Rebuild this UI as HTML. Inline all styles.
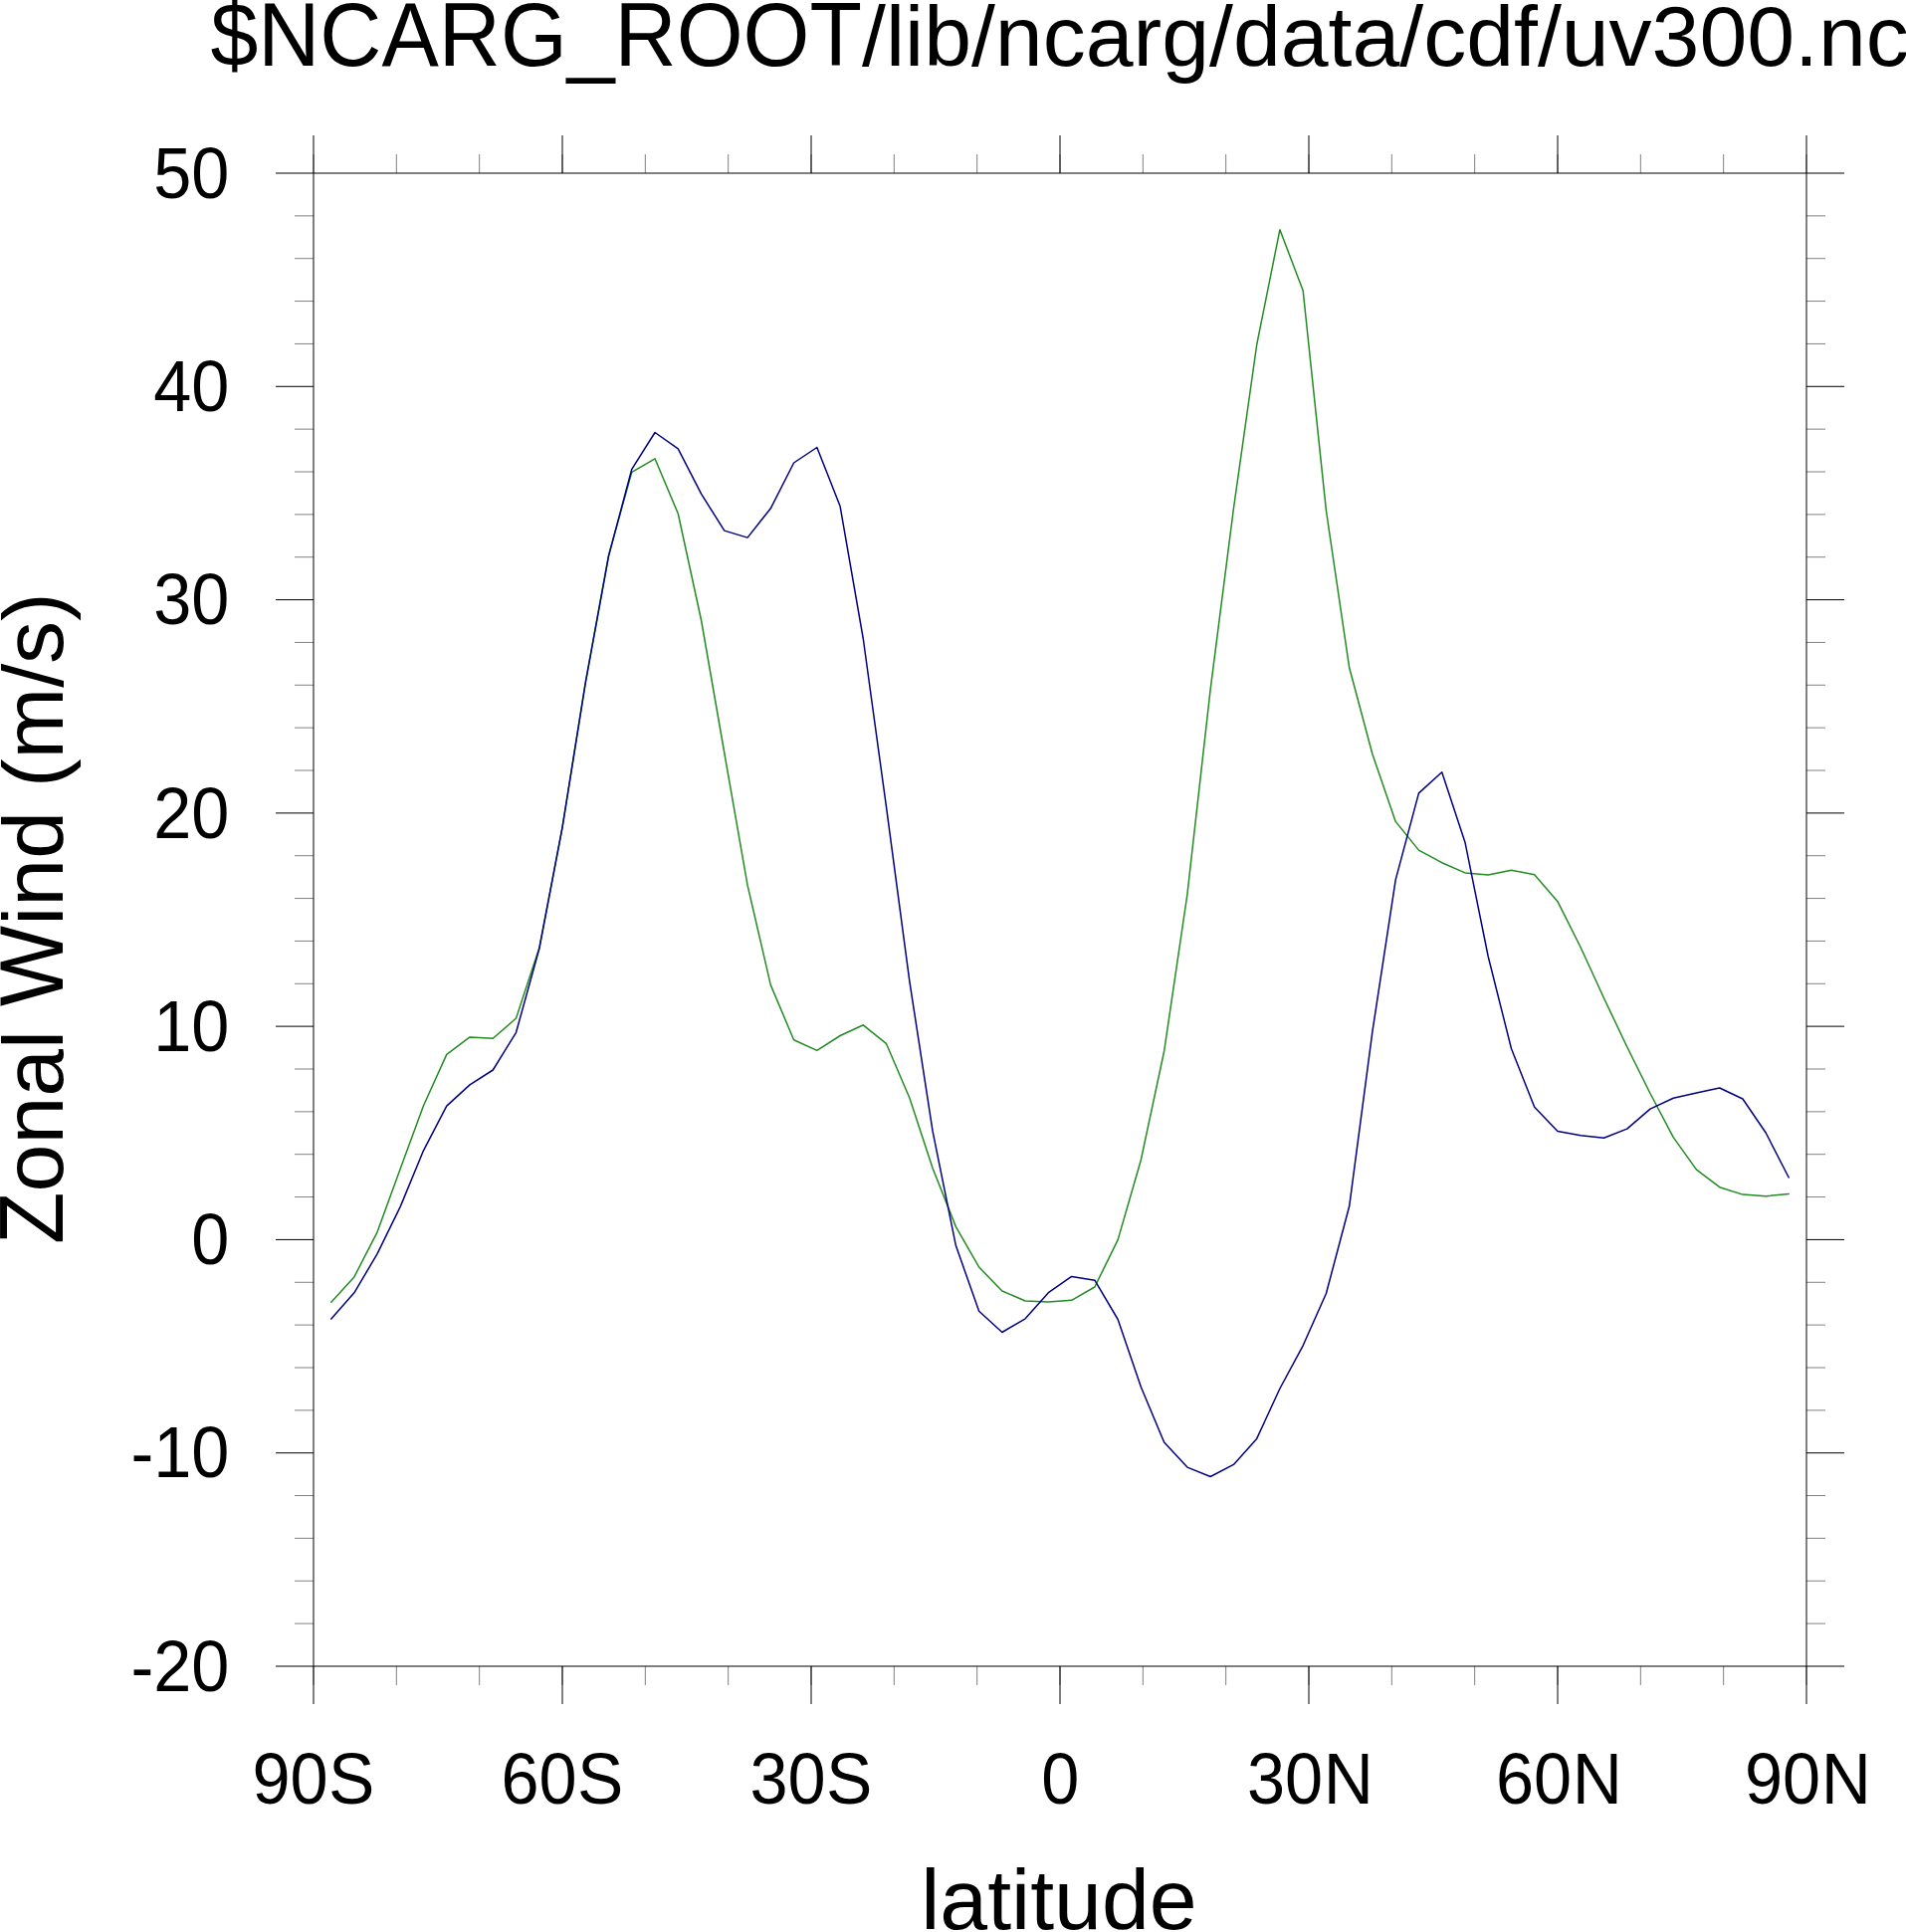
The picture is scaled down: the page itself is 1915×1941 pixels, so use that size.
<!DOCTYPE html>
<html lang="en"><head><meta charset="utf-8"><title>Zonal Wind</title>
<style>html,body{margin:0;padding:0;background:#fff}body{width:1915px;height:1941px;overflow:hidden}svg{display:block}text{font-family:"Liberation Sans",Arial,Helvetica,sans-serif;fill:#000}</style>
</head><body>
<svg width="1915" height="1941" viewBox="0 0 1915 1941">
<rect width="1915" height="1941" fill="#fff"/>
<polyline fill="none" stroke="#228B22" stroke-width="1.5" stroke-linejoin="round" stroke-linecap="round" points="332.80,1308.2 355.86,1282.9 379.06,1237.8 402.29,1174.0 425.53,1110.8 448.77,1059.4 472.02,1041.9 495.27,1043.2 518.52,1023.0 541.77,952.6 565.02,831.3 588.28,685.2 611.53,557.6 634.79,474.3 658.04,460.8 681.29,516.0 704.55,623.0 727.80,756.5 751.06,889.4 774.31,989.6 797.57,1044.7 820.82,1055.4 844.08,1040.5 867.33,1029.8 890.59,1048.7 913.84,1103.0 937.10,1173.7 960.35,1232.4 983.61,1273.0 1006.86,1297.0 1030.12,1307.0 1053.37,1308.0 1076.63,1306.3 1099.88,1293.0 1123.14,1245.6 1146.39,1165.2 1169.65,1056.0 1192.90,898.5 1216.16,692.4 1239.41,511.0 1262.67,346.5 1285.92,230.7 1309.18,292.0 1332.43,513.0 1355.69,670.8 1378.94,757.7 1402.20,825.4 1425.45,854.1 1448.71,866.7 1471.96,876.9 1495.21,878.9 1518.47,874.2 1541.72,878.8 1564.98,905.7 1588.23,952.0 1611.48,1002.7 1634.73,1051.7 1657.98,1098.5 1681.23,1142.6 1704.47,1175.1 1727.71,1192.7 1750.94,1200.1 1774.14,1201.7 1797.20,1199.5"/>
<polyline fill="none" stroke="#000080" stroke-width="1.5" stroke-linejoin="round" stroke-linecap="round" points="332.80,1325.1 355.86,1298.8 379.06,1259.7 402.29,1212.1 425.53,1155.8 448.77,1111.1 472.02,1089.9 495.27,1075.0 518.52,1037.3 541.77,953.3 565.02,831.1 588.28,686.0 611.53,558.6 634.79,471.3 658.04,434.5 681.29,450.8 704.55,496.2 727.80,533.1 751.06,540.1 774.31,510.8 797.57,465.0 820.82,449.5 844.08,508.6 867.33,642.0 890.59,811.4 913.84,985.8 937.10,1136.7 960.35,1251.3 983.61,1317.2 1006.86,1338.5 1030.12,1324.8 1053.37,1298.7 1076.63,1282.4 1099.88,1286.2 1123.14,1325.5 1146.39,1393.5 1169.65,1449.0 1192.90,1474.1 1216.16,1483.5 1239.41,1471.4 1262.67,1445.4 1285.92,1395.0 1309.18,1351.8 1332.43,1299.5 1355.69,1211.8 1378.94,1036.2 1402.20,883.9 1425.45,796.9 1448.71,775.7 1471.96,846.2 1495.21,961.0 1518.47,1053.5 1541.72,1112.3 1564.98,1136.5 1588.23,1140.7 1611.48,1143.3 1634.73,1134.1 1657.98,1114.1 1681.23,1103.3 1704.47,1098.1 1727.71,1093.0 1750.94,1104.0 1774.14,1138.0 1797.20,1183.0"/>
<g fill="#000" fill-opacity="0.5">
<rect x="315" y="173" width="1500" height="2"/><rect x="315" y="1673" width="1500" height="2"/>
<rect x="277" y="173" width="38" height="2"/><rect x="1815" y="173" width="38" height="2"/>
<rect x="277" y="1673" width="38" height="2"/><rect x="1815" y="1673" width="38" height="2"/>
</g>
<g stroke="#000" stroke-width="1.0" fill="none">
<path d="M315 174V1674M1815 174V1674"/>
<path d="M315 174v-38M315 1674v38M565 174v-38M565 1674v38M815 174v-38M815 1674v38M1065 174v-38M1065 1674v38M1315 174v-38M1315 1674v38M1565 174v-38M1565 1674v38M1815 174v-38M1815 1674v38M315 1459.71h-38M1815 1459.71h38M315 1245.43h-38M1815 1245.43h38M315 1031.14h-38M1815 1031.14h38M315 816.86h-38M1815 816.86h38M315 602.57h-38M1815 602.57h38M315 388.29h-38M1815 388.29h38"/>
</g>
<g stroke="#000" stroke-width="0.5" fill="none">
<path d="M315.00 174v-19M315.00 1674v19M398.33 174v-19M398.33 1674v19M481.67 174v-19M481.67 1674v19M565.00 174v-19M565.00 1674v19M648.33 174v-19M648.33 1674v19M731.67 174v-19M731.67 1674v19M815.00 174v-19M815.00 1674v19M898.33 174v-19M898.33 1674v19M981.67 174v-19M981.67 1674v19M1065.00 174v-19M1065.00 1674v19M1148.33 174v-19M1148.33 1674v19M1231.67 174v-19M1231.67 1674v19M1315.00 174v-19M1315.00 1674v19M1398.33 174v-19M1398.33 1674v19M1481.67 174v-19M1481.67 1674v19M1565.00 174v-19M1565.00 1674v19M1648.33 174v-19M1648.33 1674v19M1731.67 174v-19M1731.67 1674v19M1815.00 174v-19M1815.00 1674v19M315 1631.14h-19M1815 1631.14h19M315 1588.29h-19M1815 1588.29h19M315 1545.43h-19M1815 1545.43h19M315 1502.57h-19M1815 1502.57h19M315 1416.86h-19M1815 1416.86h19M315 1374.00h-19M1815 1374.00h19M315 1331.14h-19M1815 1331.14h19M315 1288.29h-19M1815 1288.29h19M315 1202.57h-19M1815 1202.57h19M315 1159.71h-19M1815 1159.71h19M315 1116.86h-19M1815 1116.86h19M315 1074.00h-19M1815 1074.00h19M315 988.29h-19M1815 988.29h19M315 945.43h-19M1815 945.43h19M315 902.57h-19M1815 902.57h19M315 859.71h-19M1815 859.71h19M315 774.00h-19M1815 774.00h19M315 731.14h-19M1815 731.14h19M315 688.29h-19M1815 688.29h19M315 645.43h-19M1815 645.43h19M315 559.71h-19M1815 559.71h19M315 516.86h-19M1815 516.86h19M315 474.00h-19M1815 474.00h19M315 431.14h-19M1815 431.14h19M315 345.43h-19M1815 345.43h19M315 302.57h-19M1815 302.57h19M315 259.71h-19M1815 259.71h19M315 216.86h-19M1815 216.86h19"/>
</g>
<text x="211.38" y="66.3" font-size="86"><tspan font-size="90.30" textLength="654.656" lengthAdjust="spacingAndGlyphs">$NCARG_ROOT</tspan><tspan x="866.04">/lib/ncarg/data/cdf/uv300.nc</tspan></text>
<g font-size="69.5" text-anchor="end">
<text transform="translate(230.4 1698.65) scale(0.985 1.03)">-20</text>
<text transform="translate(230.4 1484.36) scale(0.985 1.03)">-10</text>
<text transform="translate(230.4 1270.08) scale(0.985 1.03)">0</text>
<text transform="translate(230.4 1055.79) scale(0.985 1.03)">10</text>
<text transform="translate(230.4 841.51) scale(0.985 1.03)">20</text>
<text transform="translate(230.4 627.22) scale(0.985 1.03)">30</text>
<text transform="translate(230.4 412.94) scale(0.985 1.03)">40</text>
<text transform="translate(230.4 198.65) scale(0.985 1.03)">50</text>
</g>
<g font-size="69.5">
<text y="1812.4"><tspan x="253.50" font-size="71.59" textLength="76.15" lengthAdjust="spacingAndGlyphs">90</tspan><tspan x="329.97" dy="-0.9" font-size="72.56" textLength="46.36" lengthAdjust="spacingAndGlyphs">S</tspan></text>
<text y="1812.4"><tspan x="503.50" font-size="71.59" textLength="76.15" lengthAdjust="spacingAndGlyphs">60</tspan><tspan x="579.97" dy="-0.9" font-size="72.56" textLength="46.36" lengthAdjust="spacingAndGlyphs">S</tspan></text>
<text y="1812.4"><tspan x="753.50" font-size="71.59" textLength="76.15" lengthAdjust="spacingAndGlyphs">30</tspan><tspan x="829.97" dy="-0.9" font-size="72.56" textLength="46.36" lengthAdjust="spacingAndGlyphs">S</tspan></text>
<text y="1812.4"><tspan x="1046.16" font-size="71.59" textLength="38.07" lengthAdjust="spacingAndGlyphs">0</tspan></text>
<text y="1812.4"><tspan x="1252.98" font-size="71.59" textLength="76.15" lengthAdjust="spacingAndGlyphs">30</tspan><tspan x="1329.71" dy="-0.9" font-size="72.56" textLength="50.19" lengthAdjust="spacingAndGlyphs">N</tspan></text>
<text y="1812.4"><tspan x="1502.98" font-size="71.59" textLength="76.15" lengthAdjust="spacingAndGlyphs">60</tspan><tspan x="1579.71" dy="-0.9" font-size="72.56" textLength="50.19" lengthAdjust="spacingAndGlyphs">N</tspan></text>
<text y="1812.4"><tspan x="1752.98" font-size="71.59" textLength="76.15" lengthAdjust="spacingAndGlyphs">90</tspan><tspan x="1829.71" dy="-0.9" font-size="72.56" textLength="50.19" lengthAdjust="spacingAndGlyphs">N</tspan></text>
</g>
<text x="1063.9" y="1938" font-size="86" text-anchor="middle">latitude</text>
<text transform="translate(62.9 1249.94) rotate(-90)" y="0" font-size="86"><tspan x="0" font-size="90.30" lengthAdjust="spacingAndGlyphs" textLength="52.531">Z</tspan><tspan x="52.531">onal </tspan><tspan x="239.016" font-size="90.30" lengthAdjust="spacingAndGlyphs" textLength="81.172">W</tspan><tspan x="320.188">ind (m/s)</tspan></text>
</svg>
</body></html>
